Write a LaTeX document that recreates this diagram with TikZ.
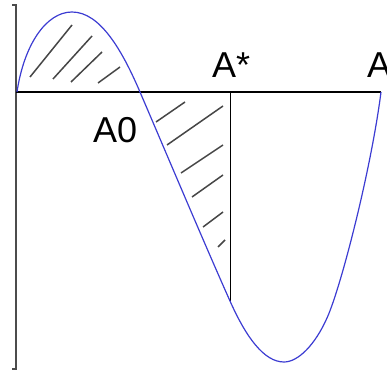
\documentclass[tikz,border=0pt]{standalone}
\usepackage{fontspec}
\setmainfont{Liberation Sans}
\definecolor{curveblue}{RGB}{60,60,210}
\definecolor{hatchgray}{RGB}{70,70,70}
\tikzset{
  axisline/.style={line width=1.3pt, black},
  frameline/.style={line width=1.4pt, black!70},
  curveline/.style={line width=1.2pt, curveblue},
  hatchline/.style={line width=1.5pt, hatchgray},
  lbl/.style={inner sep=0pt, anchor=base west, font=\fontsize{36}{40}\selectfont}
}
\begin{document}
\begin{tikzpicture}[x=1pt,y=-1pt]
\useasboundingbox (0,0) rectangle (387,374);
% frame
\coordinate (ft) at (16,5);
\coordinate (fb) at (16,369);
\draw[frameline] (12,5) -- (ft) -- (fb) -- (12,369);
% axis
\coordinate (o) at (16,92);
\coordinate (e) at (381,92);
\draw[axisline] (o) -- (e);
% vertical at A*
\coordinate (vs) at (230,92);
\coordinate (ve) at (230,301);
\draw[axisline, line width=1pt] (vs) -- (ve);
% hatch lines left
\draw[hatchline] (30,77) -- (72,25);
\draw[hatchline] (53,79) -- (92,36);
\draw[hatchline] (71,82) -- (102,52);
\draw[hatchline] (98,83) -- (120,67);
% hatch lines right
\draw[hatchline] (156,122) -- (185,102);
\draw[hatchline] (167,145) -- (223,106);
\draw[hatchline] (181,173) -- (223,145);
\draw[hatchline] (192,197) -- (223,175);
\draw[hatchline] (203,227) -- (223,212);
\draw[hatchline] (218,247) -- (225,240);
% curve
\coordinate (c0) at (17,92);
\coordinate (cpk) at (72,12);
\coordinate (cz) at (140,92);
\coordinate (cs) at (230,301);
\coordinate (cmin) at (284,362);
\coordinate (cr) at (327,318);
\draw[curveline] (c0) .. controls (24,45) and (46,12) .. (cpk)
  .. controls (100,12) and (122,50) .. (cz)
  .. controls (170,162) and (205,245) .. (cs)
  .. controls (246,337) and (264,362) .. (cmin)
  .. controls (298,362) and (315,345) .. (cr)
  .. controls (341,287) and (371,170) .. (e);
% labels
\node[lbl] (a0) at (93,142) {A0};
\node[lbl] (astar) at (212,78) {A*};
\node[lbl] (a) at (367,78) {A};
\end{tikzpicture}
\end{document}
